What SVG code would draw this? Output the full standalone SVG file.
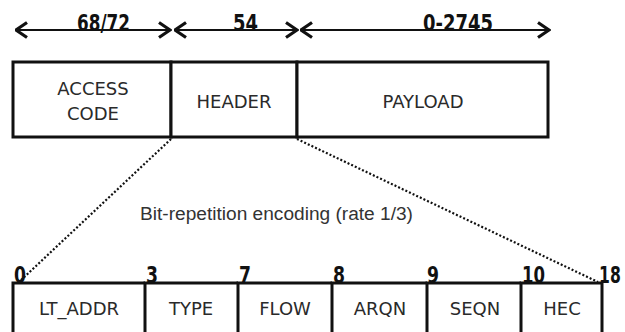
<svg xmlns="http://www.w3.org/2000/svg" width="625" height="332" viewBox="0 0 625 332">
  <defs>
    <marker id="chev" viewBox="0 0 14 18" refX="12.5" refY="9" markerWidth="14" markerHeight="18" markerUnits="userSpaceOnUse" orient="auto-start-reverse">
      <path d="M1.5,1.5 L12.5,9 L1.5,16.5" fill="none" stroke="#111" stroke-width="3.2" stroke-linejoin="miter"/>
    </marker>
    <style>
      .box { fill: #fff; stroke: #111; stroke-width: 3; }
      .edge { stroke: #111; stroke-width: 3; fill: none; }
      .lbl { font-family: "DejaVu Sans", sans-serif; font-size: 18px; fill: #2a2a2a; text-anchor: middle; }
      .num { font-family: "DejaVu Sans", sans-serif; font-weight: bold; font-size: 23px; fill: #111; }
      .dim { stroke: #111; stroke-width: 2.2; fill: none; marker-start: url(#chev); marker-end: url(#chev); }
      .dot { stroke: #111; stroke-width: 2.2; stroke-dasharray: 2 2; fill: none; }
      .note { font-family: "Liberation Sans", Arial, sans-serif; font-size: 18px; fill: #333; }
    </style>
  </defs>

  <g id="connectors">
    <line class="dim" x1="16" y1="30" x2="170" y2="30"/>
    <line class="dim" x1="175" y1="30" x2="297" y2="30"/>
    <line class="dim" x1="301" y1="30" x2="549" y2="30"/>
    <line class="dot" x1="171" y1="139" x2="19" y2="282"/>
    <line class="dot" x1="297" y1="139" x2="598" y2="282"/>
  </g>

  <g id="dim-labels">
    <text class="num" x="77" y="31" textLength="53" lengthAdjust="spacingAndGlyphs">68/72</text>
    <text class="num" x="233" y="31" textLength="25" lengthAdjust="spacingAndGlyphs">54</text>
    <text class="num" x="423" y="31" textLength="70" lengthAdjust="spacingAndGlyphs">0-2745</text>
  </g>

  <g id="access-code">
    <rect class="box" x="13" y="62" width="158" height="75"/>
    <text class="lbl" x="93" y="95">ACCESS</text>
    <text class="lbl" x="93" y="120">CODE</text>
  </g>
  <g id="header">
    <rect class="box" x="171" y="62" width="126" height="75"/>
    <text class="lbl" x="234" y="108">HEADER</text>
  </g>
  <g id="payload">
    <rect class="box" x="297" y="62" width="251" height="75"/>
    <text class="lbl" x="423" y="108">PAYLOAD</text>
  </g>

  <g id="encoding-note">
    <text class="note" x="140" y="220" textLength="273" lengthAdjust="spacingAndGlyphs">Bit-repetition encoding (rate 1/3)</text>
  </g>

  <g id="lt-addr">
    <path class="edge" d="M13,340 V283 H145"/>
    <text class="lbl" x="79" y="315">LT_ADDR</text>
  </g>
  <g id="type">
    <path class="edge" d="M145,340 V283 H238"/>
    <text class="lbl" x="191" y="315">TYPE</text>
  </g>
  <g id="flow">
    <path class="edge" d="M238,340 V283 H332"/>
    <text class="lbl" x="285" y="315">FLOW</text>
  </g>
  <g id="arqn">
    <path class="edge" d="M332,340 V283 H427"/>
    <text class="lbl" x="380" y="315">ARQN</text>
  </g>
  <g id="seqn">
    <path class="edge" d="M427,340 V283 H521"/>
    <text class="lbl" x="475" y="315">SEQN</text>
  </g>
  <g id="hec">
    <path class="edge" d="M521,340 V283 H602 V340"/>
    <text class="lbl" x="562" y="315">HEC</text>
  </g>

  <g id="bit-offsets">
    <text class="num" transform="translate(14,283) scale(0.75,1)">0</text>
    <text class="num" transform="translate(146,283) scale(0.75,1)">3</text>
    <text class="num" transform="translate(239,283) scale(0.75,1)">7</text>
    <text class="num" transform="translate(333,283) scale(0.75,1)">8</text>
    <text class="num" transform="translate(427,283) scale(0.75,1)">9</text>
    <text class="num" transform="translate(522,283) scale(0.72,1)">10</text>
    <text class="num" transform="translate(599,283) scale(0.68,1)">18</text>
  </g>
</svg>
